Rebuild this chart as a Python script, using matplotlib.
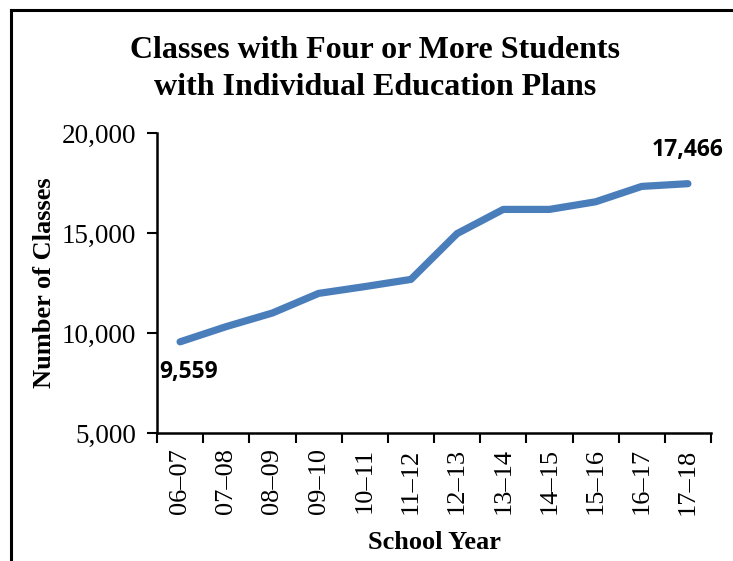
import matplotlib
matplotlib.use("Agg")
import matplotlib.pyplot as plt
import matplotlib.ticker as ticker
from matplotlib.lines import Line2D
import numpy as np

# ---------------------------------------------------------------------------
# Data
# ---------------------------------------------------------------------------
school_years = ["06\u201307", "07\u201308", "08\u201309", "09\u201310", "10\u201311", "11\u201312",
                "12\u201313", "13\u201314", "14\u201315", "15\u201316", "16\u201317", "17\u201318"]
classes = [9559, 10320, 11000, 11980, 12320, 12680,
           14970, 16180, 16180, 16560, 17330, 17466]
y_ticks = [5000, 10000, 15000, 20000]

LINE_COLOR = "#4A7EBB"
SERIF = ["Liberation Serif", "DejaVu Serif"]
SANS = ["Open Sans", "DejaVu Sans"]

W, H = 733, 561
fig = plt.figure(figsize=(W / 100, H / 100), dpi=100)
ax = fig.add_axes([157 / W, 1 - 433 / H, (711 - 157) / W, 300 / H])

x = np.arange(len(classes))
ax.plot(x, classes, color=LINE_COLOR, linewidth=5.2, solid_capstyle="round",
        solid_joinstyle="round", zorder=3)

# end-point labels
ax.annotate(f"{classes[0]:,}", (x[0], classes[0]), xytext=(6, -22),
            textcoords="offset points", ha="center", va="center",
            fontsize=16.5, fontweight="bold", family=SANS)
ax.annotate(f"{classes[-1]:,}", (x[-1], classes[-1]), xytext=(0, 24),
            textcoords="offset points", ha="center", va="center",
            fontsize=16.5, fontweight="bold", family=SANS)

ax.set_xlim(-0.5, len(classes) - 0.5)
ax.set_ylim(y_ticks[0], y_ticks[-1])
ax.set_yticks(y_ticks)
ax.yaxis.set_major_formatter(ticker.StrMethodFormatter("{x:,.0f}"))
ax.set_xticks(x)
ax.set_xticklabels(school_years, rotation=90, family=SERIF, fontsize=19)
ax.set_xticks(np.arange(-0.5, len(classes)), minor=True)
ax.tick_params(axis="x", which="major", length=0, pad=11)
ax.tick_params(axis="x", which="minor", length=7, width=1.5, direction="out")
ax.tick_params(axis="y", length=7, width=1.5, direction="out", labelsize=19.5, pad=8)
for lab in ax.get_yticklabels():
    lab.set_family(SERIF)

for side in ("top", "right"):
    ax.spines[side].set_visible(False)
for side in ("left", "bottom"):
    ax.spines[side].set_linewidth(1.8)

ax.set_ylabel("Number of Classes", family=SERIF, fontsize=19, fontweight="bold", labelpad=4)
ax.set_xlabel("School Year", family=SERIF, fontsize=19, fontweight="bold", labelpad=12)

fig.text(375 / W, 1 - 69 / H,
         "Classes with Four or More Students\nwith Individual Education Plans",
         ha="center", va="center", family=SERIF, fontsize=23, fontweight="bold",
         linespacing=1.32)

# frame (only left and top edges fall inside the picture)
fig.add_artist(Line2D([11 / W, 11 / W], [0, 1 - 10 / H], color="black", linewidth=2.2,
                      transform=fig.transFigure))
fig.add_artist(Line2D([11 / W, 1], [1 - 10 / H, 1 - 10 / H], color="black", linewidth=2.2,
                      transform=fig.transFigure))

fig.savefig("out.png", dpi=100)
